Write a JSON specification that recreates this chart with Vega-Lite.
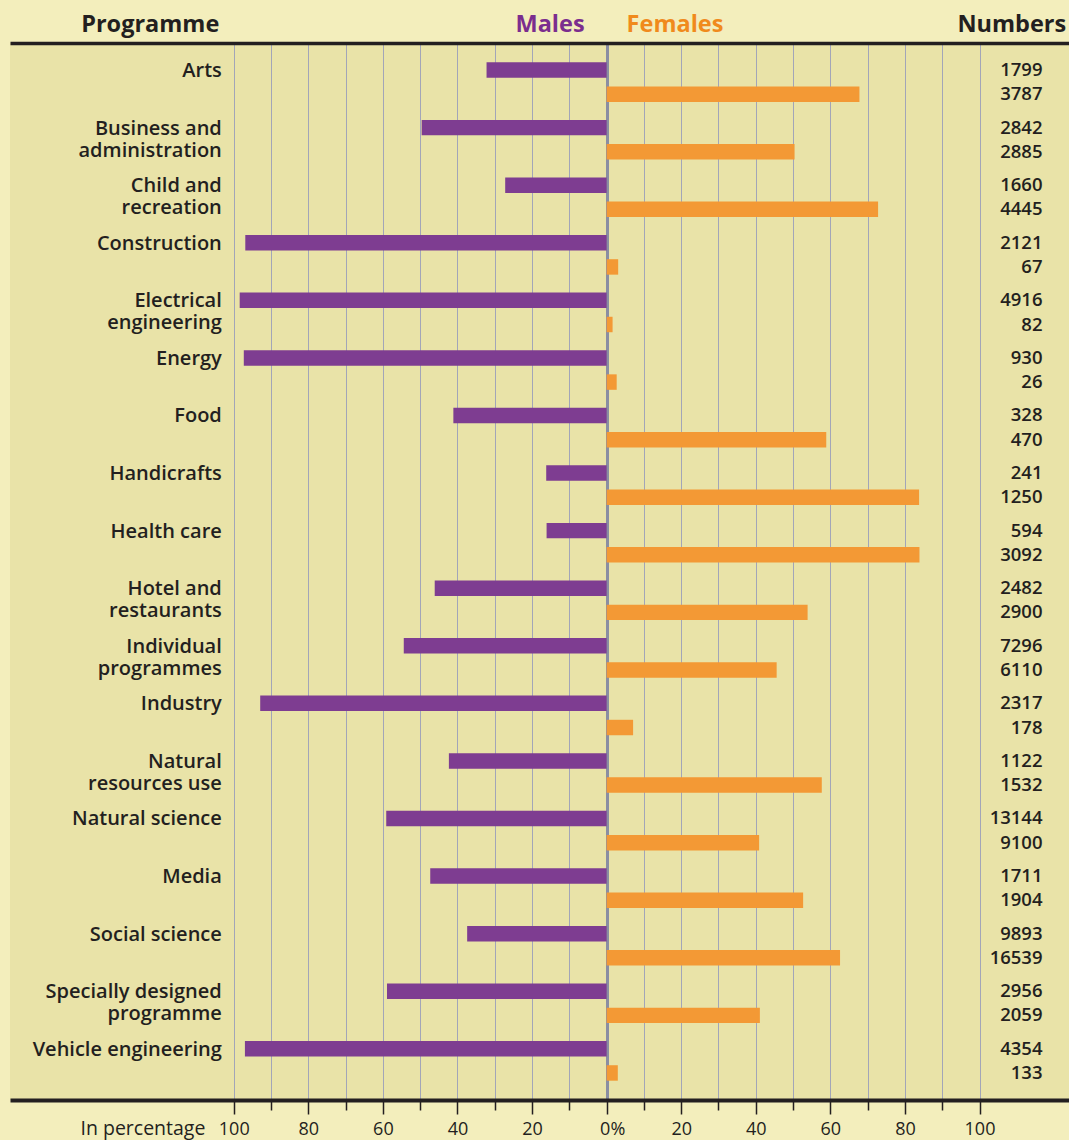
{
  "$schema": "https://vega.github.io/schema/vega-lite/v6.json",
  "width": 1059,
  "height": 1057,
  "autosize": {"type": "none"},
  "padding": {"left": 10, "top": 43, "right": 0, "bottom": 40},
  "background": "#F3EEBC",
  "config": {"view": {"fill": "#E9E3A8", "stroke": null}, "font": "Open Sans"},
  "datasets": {
    "rows": [
      {"programme": "Arts", "sex": "Males", "share": -32.2, "number": 1799},
      {"programme": "Arts", "sex": "Females", "share": 67.8, "number": 3787},
      {"programme": "Business and administration", "sex": "Males", "share": -49.6, "number": 2842},
      {"programme": "Business and administration", "sex": "Females", "share": 50.4, "number": 2885},
      {"programme": "Child and recreation", "sex": "Males", "share": -27.2, "number": 1660},
      {"programme": "Child and recreation", "sex": "Females", "share": 72.8, "number": 4445},
      {"programme": "Construction", "sex": "Males", "share": -96.9, "number": 2121},
      {"programme": "Construction", "sex": "Females", "share": 3.1, "number": 67},
      {"programme": "Electrical engineering", "sex": "Males", "share": -98.4, "number": 4916},
      {"programme": "Electrical engineering", "sex": "Females", "share": 1.6, "number": 82},
      {"programme": "Energy", "sex": "Males", "share": -97.3, "number": 930},
      {"programme": "Energy", "sex": "Females", "share": 2.7, "number": 26},
      {"programme": "Food", "sex": "Males", "share": -41.1, "number": 328},
      {"programme": "Food", "sex": "Females", "share": 58.9, "number": 470},
      {"programme": "Handicrafts", "sex": "Males", "share": -16.2, "number": 241},
      {"programme": "Handicrafts", "sex": "Females", "share": 83.8, "number": 1250},
      {"programme": "Health care", "sex": "Males", "share": -16.1, "number": 594},
      {"programme": "Health care", "sex": "Females", "share": 83.9, "number": 3092},
      {"programme": "Hotel and restaurants", "sex": "Males", "share": -46.1, "number": 2482},
      {"programme": "Hotel and restaurants", "sex": "Females", "share": 53.9, "number": 2900},
      {"programme": "Individual programmes", "sex": "Males", "share": -54.4, "number": 7296},
      {"programme": "Individual programmes", "sex": "Females", "share": 45.6, "number": 6110},
      {"programme": "Industry", "sex": "Males", "share": -92.9, "number": 2317},
      {"programme": "Industry", "sex": "Females", "share": 7.1, "number": 178},
      {"programme": "Natural resources use", "sex": "Males", "share": -42.3, "number": 1122},
      {"programme": "Natural resources use", "sex": "Females", "share": 57.7, "number": 1532},
      {"programme": "Natural science", "sex": "Males", "share": -59.1, "number": 13144},
      {"programme": "Natural science", "sex": "Females", "share": 40.9, "number": 9100},
      {"programme": "Media", "sex": "Males", "share": -47.3, "number": 1711},
      {"programme": "Media", "sex": "Females", "share": 52.7, "number": 1904},
      {"programme": "Social science", "sex": "Males", "share": -37.4, "number": 9893},
      {"programme": "Social science", "sex": "Females", "share": 62.6, "number": 16539},
      {"programme": "Specially designed programme", "sex": "Males", "share": -58.9, "number": 2956},
      {"programme": "Specially designed programme", "sex": "Females", "share": 41.1, "number": 2059},
      {"programme": "Vehicle engineering", "sex": "Males", "share": -97.0, "number": 4354},
      {"programme": "Vehicle engineering", "sex": "Females", "share": 3.0, "number": 133}
    ],
    "programmes": [
      {"programme": "Arts", "sex": "Males", "label": ["Arts"]},
      {"programme": "Business and administration", "sex": "Males", "label": ["Business and", "administration"]},
      {"programme": "Child and recreation", "sex": "Males", "label": ["Child and", "recreation"]},
      {"programme": "Construction", "sex": "Males", "label": ["Construction"]},
      {"programme": "Electrical engineering", "sex": "Males", "label": ["Electrical", "engineering"]},
      {"programme": "Energy", "sex": "Males", "label": ["Energy"]},
      {"programme": "Food", "sex": "Males", "label": ["Food"]},
      {"programme": "Handicrafts", "sex": "Males", "label": ["Handicrafts"]},
      {"programme": "Health care", "sex": "Males", "label": ["Health care"]},
      {"programme": "Hotel and restaurants", "sex": "Males", "label": ["Hotel and", "restaurants"]},
      {"programme": "Individual programmes", "sex": "Males", "label": ["Individual", "programmes"]},
      {"programme": "Industry", "sex": "Males", "label": ["Industry"]},
      {"programme": "Natural resources use", "sex": "Males", "label": ["Natural", "resources use"]},
      {"programme": "Natural science", "sex": "Males", "label": ["Natural science"]},
      {"programme": "Media", "sex": "Males", "label": ["Media"]},
      {"programme": "Social science", "sex": "Males", "label": ["Social science"]},
      {"programme": "Specially designed programme", "sex": "Males", "label": ["Specially designed", "programme"]},
      {"programme": "Vehicle engineering", "sex": "Males", "label": ["Vehicle engineering"]}
    ]
  },
  "encoding": {
    "y": {"field": "programme", "type": "nominal", "sort": null, "scale": {"paddingInner": 0.001, "paddingOuter": 0.18}, "axis": null},
    "yOffset": {"field": "sex", "type": "nominal", "sort": ["Males", "Females"], "scale": {"domain": ["Males", "Females"], "paddingInner": 0.36, "paddingOuter": 0.37}}
  },
  "layer": [
    {
      "data": {"name": "rows"},
      "mark": {"type": "bar"},
      "encoding": {
        "x": {
          "field": "share", "type": "quantitative",
          "scale": {"domain": [-160, 124], "nice": false, "zero": false},
          "axis": {
            "orient": "bottom",
            "values": [-100, -90, -80, -70, -60, -50, -40, -30, -20, -10, 0, 10, 20, 30, 40, 50, 60, 70, 80, 90, 100],
            "labelExpr": "datum.value == 0 ? '0%' : (abs(datum.value) % 20 == 0 ? '' + abs(datum.value) : '')",
            "labelAlign": {"condition": {"test": "datum.value == 0", "value": "left"}, "value": "center"},
            "labelOffset": {"condition": {"test": "datum.value == 0", "value": -7}, "value": 0},
            "labelFontSize": 18,
            "labelFontWeight": 500,
            "labelColor": "#231F20",
            "labelPadding": 6,
            "labelOverlap": false,
            "labelFlush": false,
            "domainColor": "#231F20",
            "domainWidth": 4,
            "tickColor": "#231F20",
            "tickWidth": 1.5,
            "tickSize": {"condition": {"test": "abs(datum.value) % 20 == 0", "value": 14}, "value": 10},
            "grid": true,
            "gridColor": {"condition": {"test": "datum.value == 0", "value": "#8A8EA2"}, "value": "#A2A5B8"},
            "gridWidth": {"condition": {"test": "datum.value == 0", "value": 3}, "value": 1},
            "title": "In percentage",
            "titleX": 70,
            "titleY": 34,
            "titleAlign": "left",
            "titleAnchor": "start",
            "titleBaseline": "alphabetic",
            "titleFontSize": 19.5,
            "titleFontWeight": 500,
            "titleColor": "#231F20"
          }
        },
        "x2": {"datum": 0},
        "color": {"field": "sex", "type": "nominal", "scale": {"domain": ["Males", "Females"], "range": ["#7E3D91", "#F39935"]}, "legend": null}
      }
    },
    {
      "data": {"name": "rows"},
      "mark": {"type": "text", "align": "right", "baseline": "middle", "fontSize": 18.5, "fontWeight": 600, "color": "#231F20"},
      "encoding": {
        "x": {"datum": 116.9, "type": "quantitative", "axis": null},
        "text": {"field": "number", "type": "nominal"}
      }
    },
    {
      "data": {"name": "programmes"},
      "mark": {"type": "text", "align": "right", "baseline": "alphabetic", "dy": 7, "lineHeight": 22, "fontSize": 20, "fontWeight": 600, "color": "#231F20"},
      "encoding": {
        "x": {
          "datum": -103.2, "type": "quantitative",
          "axis": {
            "orient": "top",
            "values": [-104, -15.3, 18.2, 123.1],
            "labelExpr": "datum.value < -50 ? 'Programme' : (datum.value < 0 ? 'Males' : (datum.value < 50 ? 'Females' : 'Numbers'))",
            "labelAlign": {"condition": {"test": "abs(datum.value) > 50", "value": "right"}, "value": "center"},
            "labelColor": {"condition": [{"test": "datum.value > -50 && datum.value < 0", "value": "#7B2D8E"}, {"test": "datum.value > 0 && datum.value < 50", "value": "#F08A1C"}], "value": "#231F20"},
            "labelFontSize": 23.5,
            "labelFontWeight": "bold",
            "labelPadding": 7,
            "labelOverlap": false,
            "labelFlush": false,
            "ticks": false,
            "grid": false,
            "domainColor": "#231F20",
            "domainWidth": 3.5,
            "title": null
          }
        },
        "text": {"field": "label"}
      }
    }
  ],
  "resolve": {"axis": {"x": "independent"}}
}
